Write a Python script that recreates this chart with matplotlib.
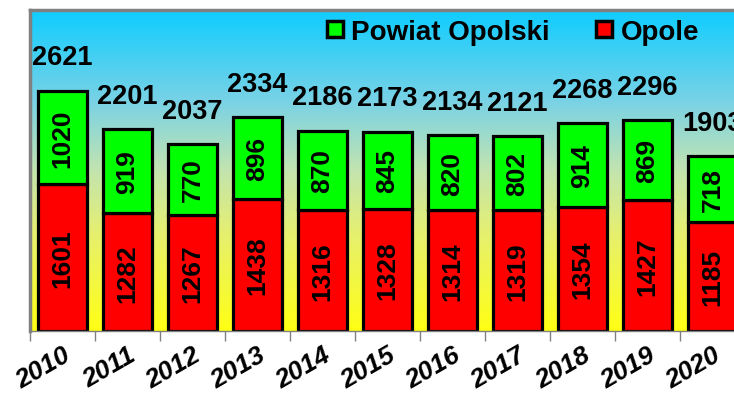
import matplotlib
matplotlib.use('Agg')
import matplotlib.pyplot as plt
import numpy as np
from matplotlib.colors import LinearSegmentedColormap
from matplotlib.lines import Line2D

# data
years = ['2010', '2011', '2012', '2013', '2014', '2015', '2016', '2017', '2018', '2019', '2020']
opole = [1601, 1282, 1267, 1438, 1316, 1328, 1314, 1319, 1354, 1427, 1185]
powiat = [1020, 919, 770, 896, 870, 845, 820, 802, 914, 869, 718]
totals = [2621, 2201, 2037, 2334, 2186, 2173, 2134, 2121, 2268, 2296, 1903]

plt.rcParams['font.family'] = ['Liberation Sans', 'DejaVu Sans']
plt.rcParams['font.weight'] = 'bold'

fig = plt.figure(figsize=(7.34, 4.02), dpi=100)
# plot area runs past the right edge of the picture, like the original
ax = fig.add_axes([30 / 734, 70 / 402, 715 / 734, 321 / 402])

x = np.arange(len(years))
ymax = 3500
ax.set_xlim(-0.5, len(years) - 0.5)
ax.set_ylim(0, ymax)

# blue -> yellow background
bg = LinearSegmentedColormap.from_list('bg', [
    (0.0, '#FFFF14'),
    (0.3, '#E6F06E'),
    (0.5, '#C3E4AF'),
    (0.72, '#78D2E6'),
    (1.0, '#0FCDFF'),
])
grad = np.linspace(0, 1, 256).reshape(-1, 1)
ax.imshow(grad, cmap=bg, origin='lower', aspect='auto',
          extent=[-0.5, len(years) - 0.5, 0, ymax], zorder=0)

w = 0.74
ax.bar(x, opole, w, color='#FF0000', edgecolor='black', linewidth=2.3, zorder=2)
ax.bar(x, powiat, w, bottom=opole, color='#00FF00', edgecolor='black', linewidth=2.3, zorder=2)

for i in range(len(years)):
    ax.text(x[i], opole[i] / 2, str(opole[i]), rotation=90, ha='center', va='center',
            fontsize=19, zorder=3)
    ax.text(x[i], opole[i] + powiat[i] / 2, str(powiat[i]), rotation=90, ha='center',
            va='center', fontsize=19, zorder=3)
    ax.annotate(str(totals[i]), (x[i], totals[i]), xytext=(0, 24), textcoords='offset points',
                ha='center', va='center', fontsize=19.5, zorder=3, annotation_clip=False)

# ticks between categories, labels at the centres
ax.set_xticks(np.arange(-0.5, len(years), 1))
ax.set_xticklabels([])
ax.set_xticks(x, minor=True)
ax.set_xticklabels(years, minor=True, rotation=30, ha='right', rotation_mode='anchor',
                   fontstyle='italic', fontsize=19)
ax.tick_params(axis='x', which='major', length=7, width=1, color='#808080', direction='out')
ax.tick_params(axis='x', which='minor', length=0, pad=8)
ax.set_yticks([])

for s in ['left', 'top']:
    ax.spines[s].set_color('#808080')
    ax.spines[s].set_linewidth(2.5)
ax.spines['bottom'].set_color('#808080')
ax.spines['bottom'].set_linewidth(1)
ax.spines['right'].set_visible(False)

handles = [
    Line2D([], [], marker='s', color='none', markerfacecolor='#00FF00',
           markeredgecolor='black', markersize=12, markeredgewidth=2.5),
    Line2D([], [], marker='s', color='none', markerfacecolor='#FF0000',
           markeredgecolor='black', markersize=12, markeredgewidth=2.5),
]
fig.legend(handles, ['Powiat Opolski', 'Opole'], loc='center left',
           bbox_to_anchor=(311 / 734, 1 - 33 / 402), ncol=2, frameon=False,
           handletextpad=0.25, columnspacing=1.6, borderpad=0, handlelength=0.7,
           prop={'size': 20, 'weight': 'bold'})

fig.savefig('out.png', dpi=100)
